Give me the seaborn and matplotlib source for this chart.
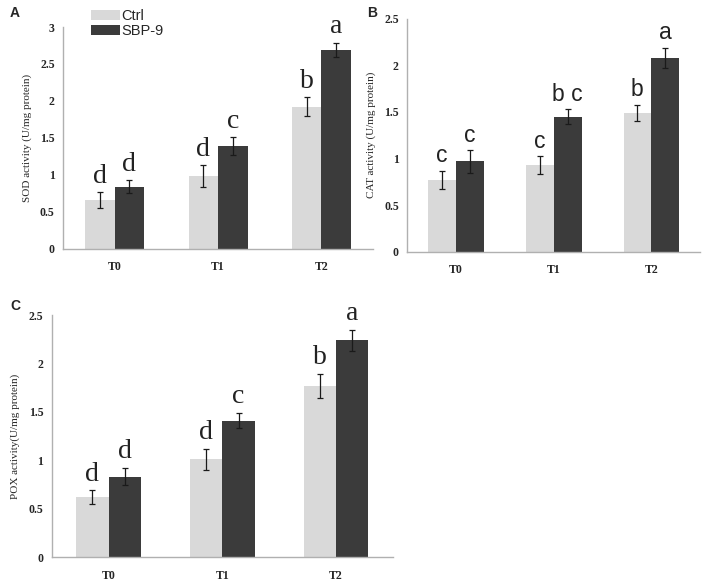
import numpy as np
import pandas as pd
import matplotlib
matplotlib.use("Agg")
import matplotlib.pyplot as plt
import seaborn as sns
from matplotlib.patches import Patch
from matplotlib.ticker import FuncFormatter, FixedLocator

# =============================================================================
# DATOS
# =============================================================================
tiempos = ["T0", "T1", "T2"]
grupos = ["Ctrl", "SBP-9"]

sod_ctrl = [0.66, 0.98, 1.92]
sod_sbp = [0.84, 1.39, 2.69]
sod_err_ctrl = [0.11, 0.15, 0.13]
sod_err_sbp = [0.09, 0.12, 0.10]
sod_letras_ctrl = ["d", "d", "b"]
sod_letras_sbp = ["d", "c", "a"]

cat_ctrl = [0.77, 0.93, 1.49]
cat_sbp = [0.97, 1.45, 2.08]
cat_err_ctrl = [0.10, 0.095, 0.09]
cat_err_sbp = [0.12, 0.08, 0.11]
cat_letras_ctrl = ["c", "c", "b"]
cat_letras_sbp = ["c", "b c", "a"]

pox_ctrl = [0.62, 1.01, 1.77]
pox_sbp = [0.83, 1.41, 2.24]
pox_err_ctrl = [0.07, 0.11, 0.125]
pox_err_sbp = [0.09, 0.08, 0.11]
pox_letras_ctrl = ["d", "d", "b"]
pox_letras_sbp = ["d", "c", "a"]

C_CTRL = "#d9d9d9"
C_SBP = "#3b3b3b"
C_EJE = "#b0b0b0"

sns.set_style("white")
plt.rcParams["font.family"] = ["Liberation Serif", "DejaVu Serif"]


def dibujar_panel(ax, ctrl, sbp, err_ctrl, err_sbp, let_ctrl, let_sbp,
                  ylabel, ymax, fuente_letras, tam_letras):
    """Dibuja un panel de barras agrupadas con barras de error y letras."""
    df = pd.DataFrame({
        "tiempo": tiempos * 2,
        "grupo": ["Ctrl"] * 3 + ["SBP-9"] * 3,
        "valor": ctrl + sbp,
    })
    sns.barplot(data=df, x="tiempo", y="valor", hue="grupo", order=tiempos,
                hue_order=grupos, palette=[C_CTRL, C_SBP], width=0.57, gap=0,
                errorbar=None, legend=False, linewidth=0, ax=ax)

    errores = err_ctrl + err_sbp
    letras = let_ctrl + let_sbp
    for barra, e, l in zip(ax.patches, errores, letras):
        x = barra.get_x() + barra.get_width() / 2
        y = barra.get_height()
        ax.errorbar(x, y, yerr=e, fmt="none", ecolor="#1a1a1a",
                    elinewidth=0.9, capsize=2.5, capthick=0.9)
        ax.text(x, y + e + 0.015 * ymax, l, ha="center", va="bottom",
                fontsize=tam_letras, family=fuente_letras, color="#222222")

    ax.set_xlim(-0.5, 2.5)
    ax.set_ylim(0, ymax)
    ax.set_yticks(np.arange(0, ymax + 0.01, 0.5))
    ax.yaxis.set_major_formatter(FuncFormatter(lambda v, p: f"{v:g}"))
    ax.set_xlabel("")
    ax.set_ylabel(ylabel, fontsize=8, labelpad=6)

    for lado in ["top", "right"]:
        ax.spines[lado].set_visible(False)
    for lado in ["left", "bottom"]:
        ax.spines[lado].set_color(C_EJE)
        ax.spines[lado].set_linewidth(1)

    ax.xaxis.set_minor_locator(FixedLocator([-0.5, 0.5, 1.5, 2.5]))
    ax.tick_params(axis="x", which="major", length=0, pad=9, labelsize=8.5)
    ax.tick_params(axis="x", which="minor", length=3, direction="out", color=C_EJE)
    ax.tick_params(axis="y", length=3, direction="out", color=C_EJE,
                   labelsize=8.5, pad=3)
    for t in ax.get_xticklabels() + ax.get_yticklabels():
        t.set_fontweight("bold")


fig = plt.figure(figsize=(7.08, 5.87), dpi=100)
ax_a = fig.add_axes([0.089, 0.576, 0.438, 0.378])
ax_b = fig.add_axes([0.575, 0.571, 0.414, 0.397])
ax_c = fig.add_axes([0.073, 0.051, 0.482, 0.412])

dibujar_panel(ax_a, sod_ctrl, sod_sbp, sod_err_ctrl, sod_err_sbp,
              sod_letras_ctrl, sod_letras_sbp, "SOD activity (U/mg protein)",
              3, "Liberation Serif", 20)
dibujar_panel(ax_b, cat_ctrl, cat_sbp, cat_err_ctrl, cat_err_sbp,
              cat_letras_ctrl, cat_letras_sbp, "CAT activity (U/mg protein)",
              2.5, "Liberation Sans", 16.5)
dibujar_panel(ax_c, pox_ctrl, pox_sbp, pox_err_ctrl, pox_err_sbp,
              pox_letras_ctrl, pox_letras_sbp, "POX activity(U/mg protein)",
              2.5, "Liberation Serif", 20)

# Leyenda
manejadores = [Patch(facecolor=C_CTRL, edgecolor="none", label="Ctrl"),
               Patch(facecolor=C_SBP, edgecolor="none", label="SBP-9")]
fig.legend(handles=manejadores, loc="upper left",
           bbox_to_anchor=(0.124, 0.99), frameon=False,
           prop={"family": "Liberation Sans", "size": 10.5},
           handlelength=2.0, handleheight=0.65, handletextpad=0.1,
           labelspacing=0.1, borderpad=0.2, borderaxespad=0)

# Etiquetas de panel
for letra, x, y in [("A", 0.014, 0.978), ("B", 0.518, 0.978), ("C", 0.014, 0.478)]:
    fig.text(x, y, letra, fontsize=10, fontweight="bold",
             family="Liberation Sans", va="center", ha="left")

fig.savefig("out.png", dpi=100)
